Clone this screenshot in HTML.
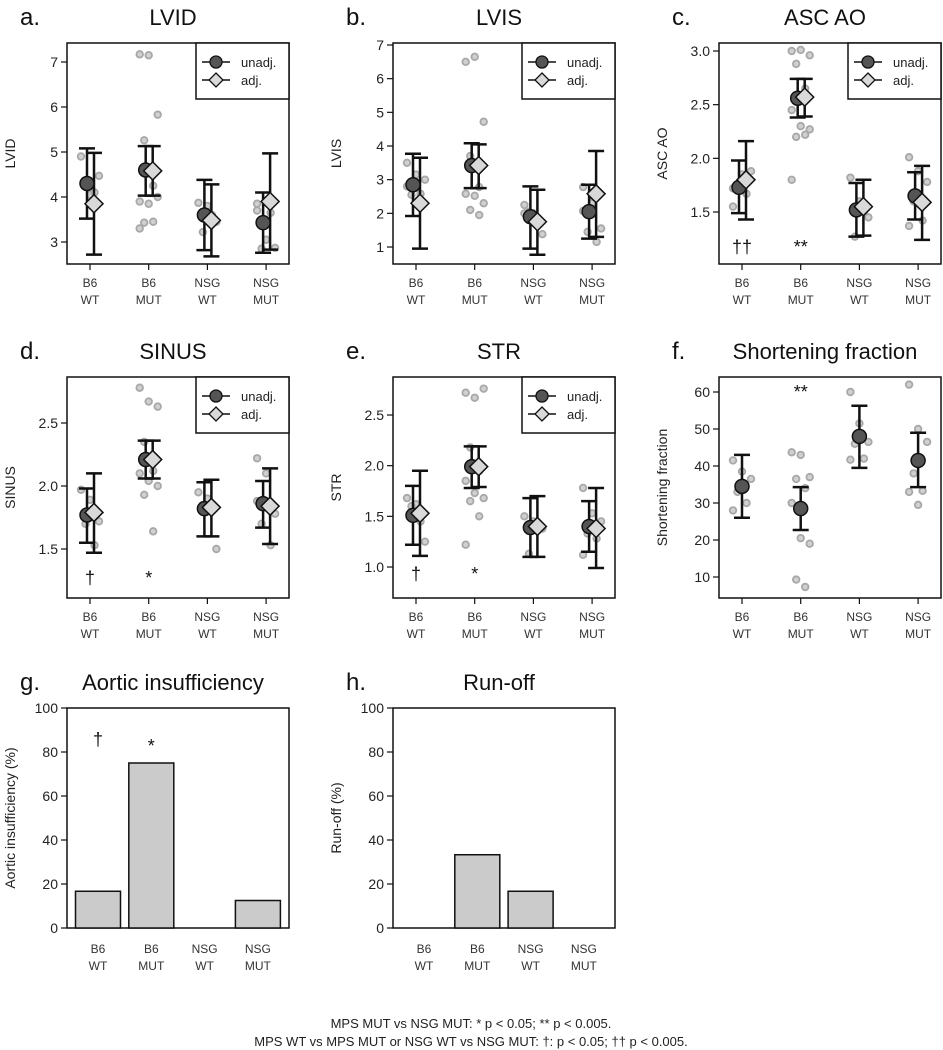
<!DOCTYPE html>
<html><head><meta charset="utf-8"><style>
html,body{margin:0;padding:0;background:#fff}
svg{display:block;font-family:"Liberation Sans",Arial,sans-serif}
</style></head><body>
<svg id="fig" width="943" height="1050" viewBox="0 0 943 1050" xmlns="http://www.w3.org/2000/svg">
<text x="471" y="1028" text-anchor="middle" font-size="13" fill="#222">MPS MUT vs NSG MUT: * p &lt; 0.05; ** p &lt; 0.005.</text>
<text x="471" y="1046" text-anchor="middle" font-size="13" fill="#222">MPS WT vs MPS MUT or NSG WT vs NSG MUT: †: p &lt; 0.05; †† p &lt; 0.005.</text>
</svg>
<script>
const groups = ["B6|WT","B6|MUT","NSG|WT","NSG|MUT"];
// LVID
const lvidUnadj = [[4.3,3.52,5.08],[4.6,4.03,5.13],[3.6,2.82,4.38],[3.43,2.76,4.1]];
const lvidAdj = [[3.85,2.72,4.98],[4.58,4.03,5.13],[3.48,2.68,4.28],[3.9,2.83,4.97]];
const lvidDots = [[4.9,4.05,4.47,4.35,4.1],[7.17,7.15,5.83,5.26,4.25,3.9,3.85,4.0,3.43,3.45,3.3],[3.87,3.8,3.45,3.22,3.6],[3.7,3.05,2.87,2.85,3.65,3.85]];
// LVIS
const lvisUnadj = [[2.85,1.92,3.77],[3.42,2.75,4.08],[1.9,0.95,2.8],[2.05,1.25,2.85]];
const lvisAdj = [[2.3,0.95,3.65],[3.42,2.75,4.05],[1.75,0.77,2.7],[2.58,1.3,3.85]];
const lvisDots = [[3.5,3.15,3.0,2.55,2.58,2.8],[6.5,6.65,4.72,3.7,2.78,2.58,2.52,2.3,2.1,1.95],[2.25,2.0,1.38,2.05,1.85,2.0],[2.78,2.3,1.55,1.45,1.15,2.07,2.5]];
// ASC AO
const ascUnadj = [[1.73,1.49,1.98],[2.56,2.38,2.74],[1.52,1.27,1.77],[1.65,1.43,1.87]];
const ascAdj = [[1.8,1.43,2.16],[2.57,2.39,2.74],[1.55,1.28,1.8],[1.59,1.24,1.93]];
const ascDots = [[1.55,1.85,1.88,1.7,1.67,1.72],[3.0,3.01,2.96,2.88,2.65,2.45,2.3,2.27,2.2,2.22,1.8],[1.82,1.6,1.45,1.27,1.5],[2.01,1.88,1.78,1.6,1.42,1.37]];
// SINUS
const sinUnadj = [[1.77,1.55,1.98],[2.21,2.06,2.36],[1.82,1.6,2.03],[1.86,1.67,2.04]];
const sinAdj = [[1.79,1.47,2.1],[2.21,2.06,2.36],[1.83,1.6,2.05],[1.84,1.54,2.14]];
const sinDots = [[1.97,1.89,1.72,1.7,1.53],[2.78,2.67,2.63,2.35,2.12,2.1,2.04,2.0,1.93,1.64],[1.95,1.9,1.5,1.85],[2.22,2.1,1.78,1.7,1.53,1.88]];
// STR
const strUnadj = [[1.51,1.22,1.8],[1.99,1.78,2.19],[1.39,1.1,1.68],[1.4,1.15,1.65]];
const strAdj = [[1.53,1.11,1.95],[1.99,1.79,2.19],[1.4,1.1,1.7],[1.38,0.99,1.78]];
const strDots = [[1.68,1.62,1.25,1.6,1.45],[2.72,2.67,2.76,2.18,1.95,1.85,1.73,1.68,1.65,1.5,1.22],[1.5,1.45,1.38,1.13],[1.78,1.53,1.45,1.33,1.28,1.12]];
// Shortening fraction
const sfUnadj = [[34.5,26,43],[28.5,22.7,34.3],[48,39.5,56.3],[41.5,34.3,49]];
const sfDots = [[41.5,38.5,36.5,33,30,28],[43.7,43,37,36.5,34,30,20.5,19,9.3,7.3],[60,51.5,46.5,46,42,41.7],[62,50,46.5,38,33.3,33,29.5]];
// bars
const aiValues = [16.7,75,0,12.5];
const runoffValues = [0,33.3,16.7,0];
const barTicks = [0,20,40,60,80,100];

const NS="http://www.w3.org/2000/svg";
const svg=document.getElementById('fig');
function el(tag,attrs,parent){const e=document.createElementNS(NS,tag);for(const k in attrs)e.setAttribute(k,attrs[k]);(parent||svg).appendChild(e);return e;}
function txt(s,attrs,parent){const t=el('text',attrs,parent);t.textContent=s;return t;}

const cols=[67,393,719], W=222;
function frame(g,left,top,H,title,letter,ylabel){
  const r=el('rect',{x:left,y:top,width:W,height:H,fill:'none',stroke:'#111','stroke-width':1.5},g);
  
  
  const t=txt(title,{x:left+W/2-5,y:top-18,'text-anchor':'middle','font-size':22,fill:'#111'},g);
  
  
  const l=txt(letter,{x:left-47,y:top-18,'font-size':24,fill:'#111'},g);
  
  
  const yl=txt(ylabel,{x:0,y:0,'text-anchor':'middle','font-size':14,fill:'#222',transform:`translate(${left-52},${top+H/2}) rotate(-90)`},g);
  
  
}
function catLabels(g,xs,y){
  groups.forEach((gr,i)=>{
    const [a,b]=gr.split('|');
    const t1=txt(a,{x:xs[i],y:y,'text-anchor':'middle','font-size':12,fill:'#333'},g);
    
    
    const t2=txt(b,{x:xs[i],y:y+17,'text-anchor':'middle','font-size':12,fill:'#333'},g);
    
    
  });
}
function yTicks(g,left,ticks,ys,fmt){
  ticks.forEach(v=>{
    const y=ys(v);
    const tl=el('line',{x1:left-6,x2:left,y1:y,y2:y,stroke:'#111','stroke-width':1.2},g);
    
    
    const tt=txt(fmt(v),{x:left-9,y:y+5,'text-anchor':'end','font-size':14,fill:'#222'},g);
    
    
  });
}
function errbar(g,x,lo,hi,ys){
  const e=el('path',{d:`M${x},${ys(lo)}V${ys(hi)}M${x-8},${ys(lo)}H${x+8}M${x-8},${ys(hi)}H${x+8}`,stroke:'#111','stroke-width':2.5,fill:'none'},g);
  
  
}
function circ(g,x,y){const c=el('circle',{cx:x,cy:y,r:7,fill:'#555',stroke:'#111','stroke-width':1.5},g);
return c;}
function diam(g,x,y){const d=el('path',{d:`M${x},${y-9}L${x+9},${y}L${x},${y+9}L${x-9},${y}Z`,fill:'#d9d9d9',stroke:'#111','stroke-width':1.5},g);
return d;}

function dotPanel(opt){
  const g=el('g',{});
  
  
  const left=opt.left, top=opt.top, H=221;
  const ys=v=>opt.y0+(v-opt.v0)*(opt.y1-opt.y0)/(opt.v1-opt.v0);
  frame(g,left,top,H,opt.title,opt.letter,opt.title==='Shortening fraction'?'Shortening fraction':opt.title);
  const xs=groups.map((_,i)=>left+23+i*58.7);
  xs.forEach(x=>{const t=el('line',{x1:x,x2:x,y1:top+H,y2:top+H+6,stroke:'#111','stroke-width':1.2},g);
});
  catLabels(g,xs,top+H+23);
  yTicks(g,left,opt.ticks,ys,opt.fmt);
  opt.dots.forEach((arr,i)=>arr.forEach((v,j)=>{
    const jit=((j*7)%5-2)*4.5;
    const d=el('circle',{cx:xs[i]+jit,cy:ys(v),r:3.3,fill:'#d0d0d0',stroke:'#a8a8a8','stroke-width':1.8},g);
    
    
  }));
  const hasAdj=!!opt.adj;
  const ou=hasAdj?-3:0, oa=4;
  opt.unadj.forEach((u,i)=>errbar(g,xs[i]+ou,u[1],u[2],ys));
  if(hasAdj) opt.adj.forEach((a,i)=>errbar(g,xs[i]+oa,a[1],a[2],ys));
  opt.unadj.forEach((u,i)=>circ(g,xs[i]+ou,ys(u[0])));
  if(hasAdj) opt.adj.forEach((a,i)=>diam(g,xs[i]+oa,ys(a[0])));
  (opt.ann||[]).forEach(a=>{
    const t=txt(a[1],{x:xs[a[0]],y:a[2],'text-anchor':'middle','font-size':18,fill:'#111'},g);
    
    
  });
  if(hasAdj){
    const lg=el('g',{},g);
    
    
    const lx=left+129;
    el('rect',{x:lx,y:top,width:W-129,height:56,fill:'#fff',stroke:'#111','stroke-width':1.5},lg);
    [['unadj.',19],['adj.',37]].forEach((e,k)=>{
      const y=top+e[1];
      const ln=el('line',{x1:lx+6,x2:lx+34,y1:y,y2:y,stroke:'#111','stroke-width':1.5},lg);
      
      
      const m=k===0?el('circle',{cx:lx+20,cy:y,r:6,fill:'#555',stroke:'#111','stroke-width':1.3},lg):el('path',{d:`M${lx+20},${y-7}L${lx+27},${y}L${lx+20},${y+7}L${lx+13},${y}Z`,fill:'#d9d9d9',stroke:'#111','stroke-width':1.3},lg);
      
      
      const t=txt(e[0],{x:lx+45,y:y+5,'font-size':13,fill:'#222'},lg);
      
      
    });
  }
}
const f1=v=>v.toFixed(1), f0=v=>String(v);
dotPanel({name:'panel-lvid',left:cols[0],top:43,title:'LVID',letter:'a.',v0:3,v1:7,y0:242,y1:62,ticks:[3,4,5,6,7],fmt:f0,unadj:lvidUnadj,adj:lvidAdj,dots:lvidDots});
dotPanel({name:'panel-lvis',left:cols[1],top:43,title:'LVIS',letter:'b.',v0:1,v1:7,y0:247,y1:45,ticks:[1,2,3,4,5,6,7],fmt:f0,unadj:lvisUnadj,adj:lvisAdj,dots:lvisDots});
dotPanel({name:'panel-asc-ao',left:cols[2],top:43,title:'ASC AO',letter:'c.',v0:1.5,v1:3,y0:212,y1:51,ticks:[1.5,2,2.5,3],fmt:f1,unadj:ascUnadj,adj:ascAdj,dots:ascDots,ann:[[0,'††',253],[1,'**',253]]});
dotPanel({name:'panel-sinus',left:cols[0],top:377,title:'SINUS',letter:'d.',v0:1.5,v1:2.5,y0:549,y1:423,ticks:[1.5,2,2.5],fmt:f1,unadj:sinUnadj,adj:sinAdj,dots:sinDots,ann:[[0,'†',584],[1,'*',584]]});
dotPanel({name:'panel-str',left:cols[1],top:377,title:'STR',letter:'e.',v0:1,v1:2.5,y0:567,y1:415,ticks:[1,1.5,2,2.5],fmt:f1,unadj:strUnadj,adj:strAdj,dots:strDots,ann:[[0,'†',580],[1,'*',580]]});
dotPanel({name:'panel-shortening-fraction',left:cols[2],top:377,title:'Shortening fraction',letter:'f.',v0:10,v1:60,y0:577,y1:392,ticks:[10,20,30,40,50,60],fmt:f0,unadj:sfUnadj,dots:sfDots,ann:[[1,'**',398]]});

function barPanel(name,left,title,letter,ylabel,vals,ann){
  const g=el('g',{});
  
  
  const top=708,H=220;
  const ys=v=>top+H-v*H/100;
  frame(g,left,top,H,title,letter,ylabel);
  yTicks(g,left,barTicks,ys,f0);
  const xs=groups.map((_,i)=>left+31+i*53.3);
  vals.forEach((v,i)=>{
    if(v<=0) return;
    const b=el('rect',{x:xs[i]-22.5,y:ys(v),width:45,height:ys(0)-ys(v),fill:'#cbcbcb',stroke:'#111','stroke-width':1.5},g);
    
    
  });
  catLabels(g,xs,top+H+25);
  (ann||[]).forEach(a=>{
    const t=txt(a[1],{x:xs[a[0]],y:ys(a[2]),'text-anchor':'middle','font-size':18,fill:'#111'},g);
    
    
  });
}
barPanel('panel-aortic-insufficiency',cols[0],'Aortic insufficiency','g.','Aortic insufficiency (%)',aiValues,[[0,'†',83],[1,'*',80]]);
barPanel('panel-run-off',cols[1],'Run-off','h.','Run-off (%)',runoffValues,[]);
</script>
</body></html>
